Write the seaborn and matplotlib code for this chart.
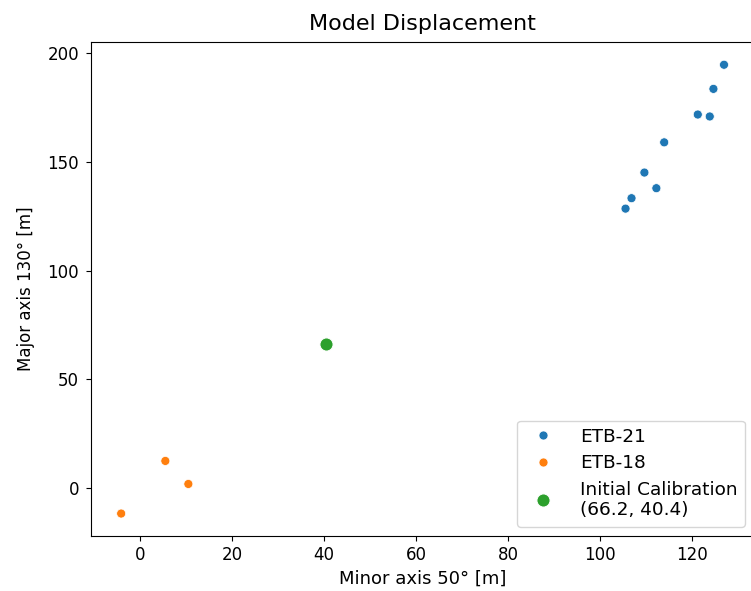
import matplotlib
matplotlib.use("Agg")
import matplotlib.pyplot as plt
import seaborn as sns
import pandas as pd

# ETB-21 displacement points (minor axis, major axis) [m]
etb21_minor = [126.9, 124.6, 121.2, 123.8, 113.9, 109.6, 112.2, 106.8, 105.5]
etb21_major = [194.7, 183.6, 171.8, 170.9, 159.0, 145.1, 137.9, 133.3, 128.5]

# ETB-18 displacement points
etb18_minor = [5.5, 10.5, -4.1]
etb18_major = [12.4, 1.8, -11.8]

# Initial calibration
calib_minor = [40.4]
calib_major = [66.2]
calib_label = "Initial Calibration\n(66.2, 40.4)"

series_names = ["ETB-21", "ETB-18"]

plt.rcParams['font.family'] = ['DejaVu Sans']
plt.rcParams['font.size'] = 12

df = pd.DataFrame({
    "minor": etb21_minor + etb18_minor,
    "major": etb21_major + etb18_major,
    "series": [series_names[0]] * len(etb21_minor) + [series_names[1]] * len(etb18_minor),
})
dfc = pd.DataFrame({"minor": calib_minor, "major": calib_major, "series": [calib_label]})

fig = plt.figure(figsize=(7.51, 5.91), dpi=100)
ax = fig.add_axes([0.1212, 0.0931, 0.883, 0.8353])

sns.scatterplot(data=df, x="minor", y="major", hue="series",
                palette=["#1f77b4", "#ff7f0e"], s=42, ax=ax)
sns.scatterplot(data=dfc, x="minor", y="major", hue="series",
                palette=["#2ca02c"], s=90, ax=ax)

ax.set_xlabel("Minor axis 50° [m]", fontsize=13)
ax.set_ylabel("Major axis 130° [m]", fontsize=12, labelpad=9)
ax.set_title("Model Displacement", fontsize=16, pad=9)
ax.set_xticks([0, 20, 40, 60, 80, 100, 120])
ax.set_yticks([0, 50, 100, 150, 200])
ax.tick_params(labelsize=12)
ax.tick_params(axis="y", pad=5)
ax.legend(loc="lower right", fontsize=13.3, handlelength=2.0,
          handletextpad=1.0, labelspacing=0.45)

fig.savefig("out.png", dpi=100)
